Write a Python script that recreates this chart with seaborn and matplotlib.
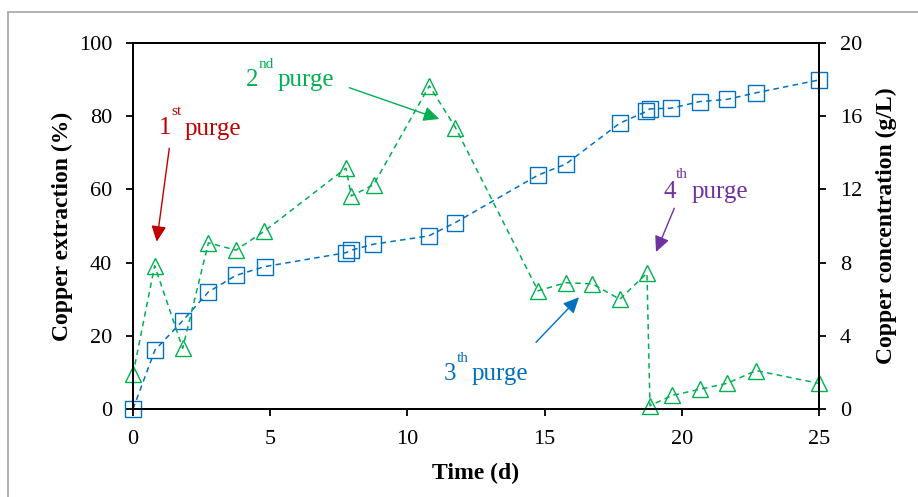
import matplotlib
matplotlib.use("Agg")
import matplotlib.pyplot as plt
import seaborn as sns
import numpy as np
import pandas as pd
from matplotlib.patches import Rectangle

# ---- data ----
ext_time = [0, 0.8, 1.81, 2.75, 3.75, 4.8, 7.76, 7.96, 8.75, 10.78, 11.74,
            14.76, 15.77, 17.74, 18.71, 18.83, 19.62, 20.66, 21.65, 22.71, 25.0]
extraction = [0, 16.1, 24.1, 32.0, 36.5, 38.9, 42.7, 43.4, 45.0, 47.3, 50.9,
              63.9, 66.9, 78.1, 81.3, 82.0, 82.2, 84.0, 84.6, 86.4, 89.9]

conc_time = [0, 0.79, 1.81, 2.75, 3.75, 4.79, 7.76, 7.96, 8.77, 10.8, 11.75,
             14.76, 15.77, 16.74, 17.74, 18.73, 18.84, 19.64, 20.66, 21.65, 22.71, 25.0]
concentration = [1.9, 7.83, 3.32, 9.08, 8.68, 9.72, 13.16, 11.64, 12.26, 17.66, 15.38,
                 6.46, 6.9, 6.84, 6.0, 7.42, 0.18, 0.74, 1.08, 1.4, 2.1, 1.4]

x_ticks = [0, 5, 10, 15, 20, 25]
left_ticks = [0, 20, 40, 60, 80, 100]
right_ticks = [0, 4, 8, 12, 16, 20]

BLUE = "#0070C0"
GREEN = "#00B050"
RED = "#C00000"
PURPLE = "#7030A0"

sns.set_style("ticks")
plt.rcParams["font.family"] = ["Liberation Serif", "DejaVu Serif"]
plt.rcParams["mathtext.fontset"] = "custom"
plt.rcParams["mathtext.rm"] = "Liberation Serif"
plt.rcParams["text.color"] = "black"
plt.rcParams["axes.labelcolor"] = "black"

W, H = 918, 497
fig = plt.figure(figsize=(W / 100, H / 100), dpi=100)
ax = fig.add_axes([133 / W, 1 - 409 / H, (819 - 133) / W, (409 - 43) / H])
ax2 = ax.twinx()

# outer chart border
fig.patches.append(Rectangle((7.5 / W, -0.05), 1.2, 1 - 11.5 / H + 0.05,
                             transform=fig.transFigure, fill=False,
                             edgecolor="#a6a6a6", lw=1.2, zorder=0))

df_ext = pd.DataFrame({"t": ext_time, "v": extraction})
df_conc = pd.DataFrame({"t": conc_time, "v": concentration})

sns.lineplot(data=df_ext, x="t", y="v", ax=ax, color=BLUE, marker="s",
             markersize=11, markerfacecolor="none", markeredgecolor=BLUE,
             markeredgewidth=1.0, lw=1.1, estimator=None, sort=False)
sns.lineplot(data=df_conc, x="t", y="v", ax=ax2, color=GREEN, marker="^",
             markersize=12, markerfacecolor="none", markeredgecolor=GREEN,
             markeredgewidth=1.0, lw=1.1, estimator=None, sort=False)
for ln in ax.get_lines() + ax2.get_lines():
    ln.set_dashes((3.6, 2.8))
    ln.set_clip_on(False)

ax.set_xlim(0, 25)
ax.set_ylim(0, 100)
ax2.set_ylim(0, 20)
ax.set_xticks(x_ticks)
ax.set_yticks(left_ticks)
ax2.set_yticks(right_ticks)

for a in (ax, ax2):
    for s in a.spines.values():
        s.set_visible(True)
        s.set_color("black")
        s.set_linewidth(1.3)
    a.tick_params(direction="out", length=5, width=1.3, labelsize=16,
                  colors="black", pad=9)
ax.tick_params(axis="y", pad=10)
ax2.tick_params(axis="y", pad=10)
ax.tick_params(axis="x", pad=10)

ax.set_xlabel("Time (d)", fontsize=17, fontweight="bold", labelpad=10, color="black")
ax.set_ylabel("Copper extraction (%)", fontsize=17, fontweight="bold", labelpad=4, color="black")
ax2.set_ylabel("Copper concentration (g/L)", fontsize=17, fontweight="bold", labelpad=10, color="black")


def pt(px, py):
    return ((px - 133) / (819 - 133) * 25, (409 - py) / (409 - 43) * 100)


def label(num, sup, base_x, base_y, sup_x, sup_y, word_x, color):
    ax.text(*pt(base_x, base_y), num, color=color, fontsize=18,
            ha="left", va="baseline")
    ax.text(*pt(sup_x, sup_y), sup, color=color, fontsize=11,
            ha="left", va="baseline")
    ax.text(*pt(word_x, base_y), "purge", color=color, fontsize=18,
            ha="left", va="baseline")


label("1", "st", 159, 134.5, 171, 115, 185, RED)
label("2", "nd", 246, 86.5, 259, 67.5, 278, GREEN)
label("3", "th", 444, 380, 456.5, 361.5, 471.5, BLUE)
label("4", "th", 663.5, 198.3, 676, 178.3, 692, PURPLE)


def arrow(tail, head, color):
    ax.annotate("", xy=pt(*head), xytext=pt(*tail),
                arrowprops=dict(arrowstyle="-|>,head_length=0.95,head_width=0.45",
                                mutation_scale=10, color=color, lw=1.0,
                                shrinkA=0, shrinkB=0))


arrow((169.3, 148.3), (156.7, 241.7), RED)
arrow((349.3, 87.7), (439.3, 119.0), GREEN)
arrow((536.0, 342.3), (579.0, 297.3), BLUE)
arrow((674.3, 208.3), (656.0, 252.0), PURPLE)

fig.savefig("out.png", dpi=100)
